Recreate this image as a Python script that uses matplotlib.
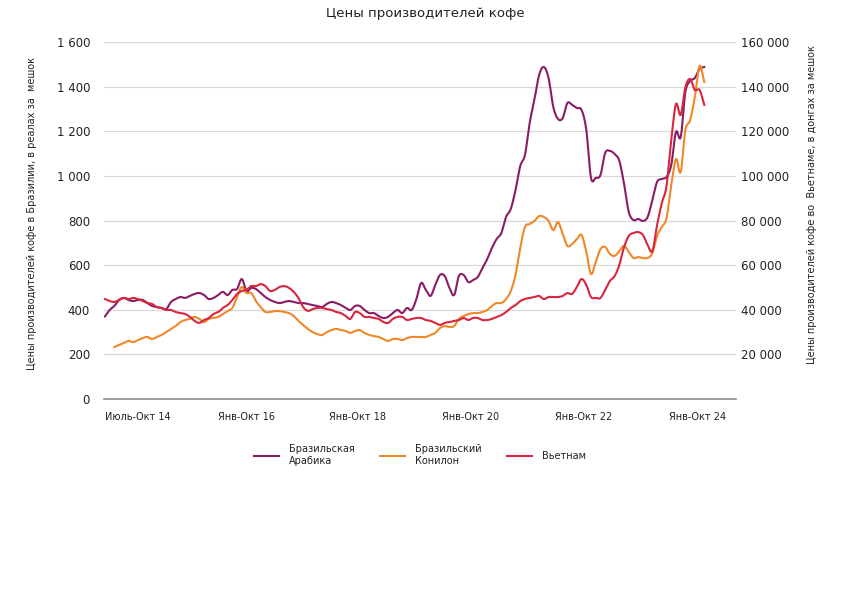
import matplotlib
matplotlib.use("Agg")
import matplotlib.pyplot as plt
import numpy as np
from matplotlib.ticker import FixedLocator

nan = np.nan

# Цены производителей, помесячно с июля 2014
# Бразильская арабика, реалов за мешок
ARABICA = [370, 399, 417, 444, 453, 444, 439, 444, 444, 430,
           417, 412, 408, 403, 435, 448, 457, 453, 462, 471,
           475, 466, 448, 453, 466, 480, 466, 489, 493, 538,
           484, 498, 493, 475, 457, 444, 435, 430, 435, 439,
           435, 430, 430, 426, 421, 417, 412, 426, 435, 430,
           421, 408, 399, 417, 417, 399, 385, 385, 372, 363,
           368, 385, 399, 385, 408, 399, 448, 520, 489, 462,
           511, 556, 551, 498, 466, 551, 556, 524, 533, 547,
           587, 627, 677, 717, 744, 816, 852, 937, 1044, 1094,
           1237, 1340, 1452, 1488, 1439, 1309, 1255, 1259, 1327, 1318,
           1304, 1295, 1206, 991, 991, 1004, 1103, 1112, 1098, 1067,
           964, 838, 802, 807, 798, 816, 892, 973, 986, 995,
           1049, 1197, 1174, 1376, 1425, 1439, 1479, 1488]

# Бразильский конилон, реалов за мешок
CONILON = [nan, nan, 233, 242, 251, 260, 255, 264, 273, 278,
           269, 278, 287, 300, 314, 327, 345, 354, 359, 368,
           359, 345, 359, 363, 368, 381, 394, 408, 457, 502,
           475, 475, 439, 412, 390, 390, 394, 394, 390, 385,
           372, 350, 332, 314, 300, 291, 287, 300, 309, 314,
           309, 305, 296, 305, 309, 296, 287, 282, 278, 269,
           260, 269, 269, 264, 273, 278, 278, 278, 278, 287,
           296, 318, 327, 323, 327, 359, 372, 381, 385, 385,
           390, 399, 417, 430, 430, 448, 484, 556, 677, 771,
           784, 798, 820, 816, 798, 757, 793, 740, 686, 695,
           717, 735, 659, 560, 614, 672, 681, 650, 641, 663,
           686, 659, 632, 636, 632, 632, 654, 731, 771, 811,
           959, 1076, 1017, 1206, 1250, 1354, 1493, 1421]

# Вьетнам, донгов за мешок
VIETNAM = [44800, 43900, 43500, 44400, 45300, 44800, 45300, 44800, 43900, 43000,
           42600, 41200, 40800, 39900, 39900, 39000, 38500, 38100, 36800, 35000,
           34100, 35400, 36300, 38100, 39000, 40800, 42100, 44400, 47100, 48400,
           48900, 50600, 50600, 51500, 50600, 48400, 48900, 50200, 50600, 49800,
           48000, 45300, 41200, 39500, 40300, 40800, 40800, 40300, 39900, 39000,
           38500, 37200, 35900, 39000, 38500, 36800, 36800, 36300, 35900, 34500,
           34100, 35900, 36800, 36800, 35400, 35900, 36300, 36300, 35400, 35000,
           34100, 33200, 34100, 34500, 35000, 35400, 36300, 35400, 36300, 36300,
           35400, 35400, 35900, 36800, 37600, 39000, 40800, 42100, 43900, 44800,
           45300, 45700, 46200, 44800, 45700, 45700, 45700, 46200, 47500, 47100,
           50200, 53800, 51100, 45700, 45300, 45300, 48900, 52900, 55100, 60100,
           68100, 73100, 74400, 74800, 73500, 69000, 66300, 78000, 87800, 95500,
           116100, 132200, 127300, 139800, 143400, 138500, 138500, 131800]

X_LABELS = ["Июль-Окт 14", "Янв-Окт 16", "Янв-Окт 18",
            "Янв-Окт 20", "Янв-Окт 22", "Янв-Окт 24"]
LEFT_TICKS = [0, 200, 400, 600, 800, 1000, 1200, 1400, 1600]
RIGHT_TICKS = [0, 20000, 40000, 60000, 80000, 100000, 120000, 140000, 160000]

SERIES_NAMES = ["Бразильская\nАрабика", "Бразильский\nКонилон", "Вьетнам"]
COLORS = ["#8A1C66", "#F0882A", "#D7263D"]


def fmt(v):
    # разделитель тысяч пробелом
    return "{:,}".format(v).replace(",", " ")


def smooth(x, y, n=8):
    # сглаживание линии как в Excel (Catmull-Rom)
    x = np.asarray(x, float)
    y = np.asarray(y, float)
    ok = ~np.isnan(y)
    x, y = x[ok], y[ok]
    p = np.concatenate([[2 * y[0] - y[1]], y, [2 * y[-1] - y[-2]]])
    t = np.linspace(0, 1, n, endpoint=False)
    xs, ys = [], []
    for i in range(len(y) - 1):
        p0, p1, p2, p3 = p[i], p[i + 1], p[i + 2], p[i + 3]
        yy = 0.5 * (2 * p1 + (-p0 + p2) * t
                    + (2 * p0 - 5 * p1 + 4 * p2 - p3) * t ** 2
                    + (-p0 + 3 * p1 - 3 * p2 + p3) * t ** 3)
        xs.append(x[i] + (x[i + 1] - x[i]) * t)
        ys.append(yy)
    xs.append([x[-1]])
    ys.append([y[-1]])
    return np.concatenate(xs), np.concatenate(ys)


text_color = "#222222"
fig = plt.figure(figsize=(8.42, 5.95), dpi=100)
ax = fig.add_axes([0.1235, 0.3294, 0.7505, 0.600])
ax2 = ax.twinx()

x = np.arange(len(ARABICA))
handles = []
h, = ax.plot(*smooth(x, ARABICA), color=COLORS[0], linewidth=1.5)
handles.append(h)
h, = ax.plot(*smooth(x, CONILON), color=COLORS[1], linewidth=1.5)
handles.append(h)
h, = ax2.plot(*smooth(x, VIETNAM), color=COLORS[2], linewidth=1.5)
handles.append(h)

# Оси
ax.set_xlim(-0.2, 133.7)
ax.set_ylim(0, 1600)
ax2.set_ylim(0, 160000)
ax.set_xticks([7, 30, 53.5, 77.5, 101.5, 125.5])
ax.set_xticklabels(X_LABELS, fontsize=7, color=text_color)
ax.tick_params(axis="x", length=0, pad=9)

ax.yaxis.set_major_locator(FixedLocator(LEFT_TICKS))
ax.set_yticklabels([fmt(v) for v in LEFT_TICKS], fontsize=8.5, color=text_color)
ax.tick_params(axis="y", length=0, pad=10)
ax2.yaxis.set_major_locator(FixedLocator(RIGHT_TICKS))
ax2.set_yticklabels([""] + [fmt(v) for v in RIGHT_TICKS[1:]], fontsize=8.5,
                    color=text_color)
ax2.tick_params(axis="y", length=0, pad=4)

ax.yaxis.grid(True, color="#d9d9d9", linewidth=0.9)
ax.set_axisbelow(True)
for a in (ax, ax2):
    for s in ["top", "left", "right", "bottom"]:
        a.spines[s].set_visible(False)
ax.spines["bottom"].set_visible(True)
ax.spines["bottom"].set_color("#8c8c8c")
ax.spines["bottom"].set_linewidth(1.2)

# Подписи
fig.text(0.505, 0.988, "Цены производителей кофе", ha="center", va="top",
         fontsize=9.5, color=text_color)
fig.text(32 / 842, 1 - 213 / 595,
         "Цены производителей кофе в Бразилии, в реалах за  мешок",
         rotation=90, ha="center", va="center", fontsize=7, color=text_color)
fig.text(812 / 842, 1 - 205 / 595,
         "Цены производителей кофе во  Вьетнаме, в донгах за мешок",
         rotation=90, ha="center", va="center", fontsize=7, color=text_color)

fig.legend(handles, SERIES_NAMES, loc="center",
           bbox_to_anchor=(0.499, 1 - 455 / 595), ncol=3, frameon=False,
           fontsize=7, handlelength=2.6, handletextpad=1.0,
           columnspacing=2.6, labelcolor=text_color)

plt.savefig("out.png", dpi=100)
plt.close()
